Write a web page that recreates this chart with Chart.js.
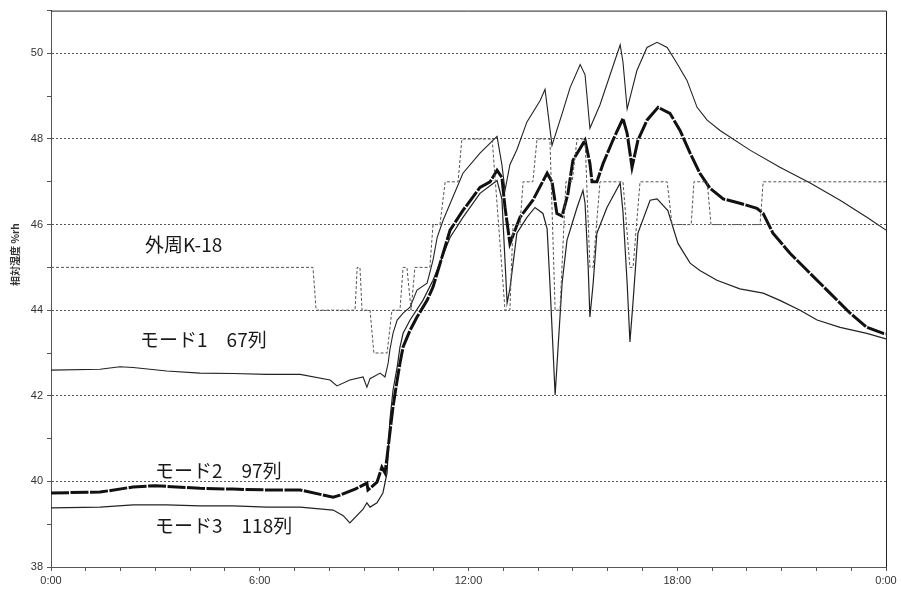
<!DOCTYPE html>
<html>
<head>
<meta charset="utf-8">
<script src="https://cdn.jsdelivr.net/npm/chart.js@4"></script>
<style>
  html, body { margin: 0; padding: 0; background: #fff; }
  #box { width: 901px; height: 593px; }
</style>
</head>
<body>
<div id="box"><canvas id="rh-chart"></canvas></div>
<script>
// time in hours (0 = 0:00, 24 = next 0:00), relative humidity in %rh
const k18Hours = [0, 7.53, 7.62, 8.74, 8.80, 8.88, 8.94, 9.17, 9.28, 9.66, 9.80, 10.03, 10.12, 10.23, 10.35, 10.46, 10.89, 10.98,
  11.18, 11.33, 11.70, 11.81, 12.68, 13.05, 13.19, 13.28, 13.48, 13.57, 13.85, 13.97, 14.34, 14.49, 14.63, 14.80, 14.98,
  15.12, 15.35, 15.49, 15.58, 15.78, 16.44, 16.64, 16.73, 16.93, 17.71, 17.85, 18.40, 18.48, 18.86, 18.97, 20.38, 20.47, 24];
const k18 = [45, 45, 44, 44, 45, 45, 44, 44, 43, 43, 44, 44, 45, 45, 44, 45, 45, 46,
  46, 47, 47, 48, 48, 44, 44, 46, 46, 47, 47, 48, 48, 44, 44, 47, 47,
  48, 48, 45, 45, 47, 47, 45, 45, 47, 47, 46, 46, 47, 47, 46, 46, 47, 47];

const mode1Hours = [0, 1.41, 1.98, 2.36, 3.33, 4.28, 5.23, 6.21, 7.16, 8.02, 8.22, 8.59, 8.97, 9.08, 9.17, 9.46, 9.60, 9.69,
  9.74, 9.83, 9.95, 10.12, 10.32, 10.52, 10.81, 10.98, 11.10, 11.27, 11.84, 12.33, 12.82, 12.96, 13.05, 13.19, 13.39,
  13.68, 14.06, 14.20, 14.40, 14.72, 14.92, 15.21, 15.35, 15.49, 15.78, 16.07, 16.36, 16.44, 16.56, 16.84, 17.13, 17.42,
  17.71, 17.99, 18.28, 18.57, 18.86, 19.23, 20.09, 20.95, 21.82, 22.68, 23.45, 24];
const mode1 = [42.6, 42.62, 42.68, 42.66, 42.58, 42.53, 42.52, 42.5, 42.5, 42.37, 42.23, 42.37, 42.44, 42.2, 42.4, 42.53, 42.44, 42.76,
  43.07, 43.46, 43.77, 43.93, 44.07, 44.47, 44.63, 45.17, 45.7, 46.1, 47.2, 47.67, 48.06, 47.4, 46.8, 47.4, 47.75,
  48.4, 48.9, 49.16, 47.85, 48.67, 49.2, 49.74, 49.5, 48.25, 48.8, 49.5, 50.2, 49.8, 48.7, 49.6, 50.14, 50.26,
  50.14, 49.77, 49.37, 48.74, 48.44, 48.2, 47.74, 47.34, 46.97, 46.57, 46.17, 45.87];

const mode2Hours = [0, 1.41, 2.36, 3.0, 4.28, 5.23, 6.21, 7.16, 8.11, 8.31, 8.74, 9.08, 9.11, 9.37, 9.51, 9.60, 9.66, 9.74,
  9.83, 9.95, 10.03, 10.12, 10.32, 10.52, 10.81, 10.98, 11.47, 11.84, 12.33, 12.62, 12.82, 12.96, 13.05, 13.19, 13.48,
  13.85, 14.26, 14.40, 14.54, 14.69, 14.86, 15.0, 15.35, 15.49, 15.55, 15.69, 15.87, 16.15, 16.44, 16.56, 16.70, 16.87,
  17.13, 17.45, 17.79, 18.08, 18.37, 18.65, 18.94, 19.32, 19.80, 20.29, 20.47, 20.75, 21.24, 21.82, 22.39, 22.97, 23.45, 23.92, 24];
const mode2 = [39.73, 39.75, 39.87, 39.9, 39.84, 39.82, 39.8, 39.8, 39.63, 39.68, 39.82, 39.96, 39.8, 39.98, 40.33, 40.2, 40.57, 41.13,
  41.74, 42.37, 42.76, 43.14, 43.53, 43.84, 44.23, 44.54, 45.87, 46.33, 46.87, 47.0, 47.27, 47.1, 46.4, 45.56, 46.17,
  46.57, 47.2, 47.0, 46.26, 46.2, 46.73, 47.5, 47.97, 47.43, 47.0, 47.0, 47.43, 47.97, 48.48, 48.13, 47.34, 47.97,
  48.44, 48.74, 48.6, 48.2, 47.67, 47.2, 46.85, 46.6, 46.5, 46.38, 46.26, 45.8, 45.33, 44.86, 44.4, 43.93, 43.6, 43.46, 43.45];

const mode3Hours = [0, 1.41, 2.36, 3.33, 4.28, 5.23, 6.21, 7.16, 8.11, 8.4, 8.59, 8.97, 9.08, 9.17, 9.37, 9.54, 9.66, 9.74,
  9.83, 9.95, 10.03, 10.12, 10.32, 10.69, 10.98, 11.47, 11.84, 12.33, 12.82, 12.96, 13.11, 13.19, 13.39, 13.68, 13.91,
  14.14, 14.26, 14.34, 14.43, 14.49, 14.57, 14.69, 14.83, 15.12, 15.29, 15.35, 15.44, 15.49, 15.58, 15.69, 15.98, 16.36,
  16.44, 16.56, 16.64, 16.73, 16.87, 17.22, 17.42, 17.73, 18.02, 18.37, 18.65, 19.14, 19.80, 20.47, 20.95, 21.53, 22.02,
  22.68, 23.45, 24];
const mode3 = [39.38, 39.4, 39.45, 39.45, 39.43, 39.43, 39.4, 39.4, 39.33, 39.2, 39.03, 39.35, 39.5, 39.4, 39.5, 39.73, 40.2, 41.43,
  42.13, 42.67, 43.14, 43.46, 43.77, 44.23, 44.7, 45.7, 46.17, 46.73, 47.03, 46.6, 44.17, 44.5, 45.8, 46.17, 46.4,
  46.26, 45.9, 44.63, 43.07, 42.02, 43.07, 44.63, 45.63, 46.4, 46.8, 46.5, 45.0, 43.84, 44.6, 45.8, 46.4, 46.97,
  46.3, 44.63, 43.26, 44.2, 45.8, 46.57, 46.6, 46.33, 45.56, 45.1, 44.93, 44.7, 44.5, 44.4, 44.23, 44.0, 43.77,
  43.6, 43.46, 43.33];

// in-plot series labels: [text, hour of left edge, %rh of middle]
const seriesLabels = [
  ['外周K-18', 2.7, 45.54],
  ['モード1　67列', 2.56, 43.3],
  ['モード2　97列', 2.99, 40.24],
  ['モード3　118列', 2.99, 38.96],
];

const yTitle = '相対湿度 %rh';
const hourLabel = v => (v % 6 === 0 ? `${v % 24}:00` : '');

const pts = (hs, vs) => hs.map((h, i) => ({ x: h, y: vs[i] }));

const frameAndLabels = {
  id: 'frameAndLabels',
  afterDatasetsDraw(chart) {
    const { ctx, chartArea: a, scales: { x, y } } = chart;
    ctx.save();
    // solid top / right edge
    ctx.strokeStyle = '#222';
    ctx.lineWidth = 1;
    ctx.beginPath();
    ctx.moveTo(a.left, a.top + 0.5);
    ctx.lineTo(a.right + 0.5, a.top + 0.5);
    ctx.lineTo(a.right + 0.5, a.bottom);
    ctx.stroke();

    ctx.fillStyle = '#1a1a1a';
    ctx.font = '19px "Noto Sans CJK JP"';
    ctx.textBaseline = 'middle';
    ctx.textAlign = 'left';
    seriesLabels.forEach(([t, h, v]) => ctx.fillText(t, x.getPixelForValue(h), y.getPixelForValue(v)));

    // rotated axis title, a bit above the middle like the original
    ctx.translate(15, y.getPixelForValue(45.3));
    ctx.rotate(-Math.PI / 2);
    ctx.textAlign = 'center';
    ctx.fillStyle = '#333';
    ctx.font = 'bold 10px "Noto Sans CJK JP"';
    ctx.fillText(yTitle, 0, 0);
    ctx.restore();
  }
};

const tickFont = { family: '"Liberation Sans", sans-serif', size: 11 };

new Chart(document.getElementById('rh-chart'), {
  type: 'line',
  data: {
    datasets: [
      { label: '外周K-18', data: pts(k18Hours, k18), borderColor: '#555', borderWidth: 1, borderDash: [3, 2] },
      { label: 'モード1 67列', data: pts(mode1Hours, mode1), borderColor: '#222', borderWidth: 1.1 },
      { label: 'モード2 97列', data: pts(mode2Hours, mode2), borderColor: '#111', borderWidth: 3, borderDash: [18, 1.5] },
      { label: 'モード3 118列', data: pts(mode3Hours, mode3), borderColor: '#222', borderWidth: 1.2 },
    ]
  },
  options: {
    responsive: true,
    maintainAspectRatio: false,
    animation: false,
    parsing: false,
    elements: { point: { radius: 0 }, line: { tension: 0 } },
    layout: { padding: { top: 9, right: 15, left: 0, bottom: 0 } },
    plugins: { legend: { display: false }, tooltip: { enabled: false } },
    scales: {
      x: {
        type: 'linear', min: 0, max: 24,
        afterFit: s => { s.height = 26; },
        ticks: { stepSize: 1, autoSkip: false, maxRotation: 0, padding: 3, color: '#333', font: tickFont, callback: hourLabel },
        grid: { drawOnChartArea: false, tickLength: 4, tickColor: '#555' },
        border: { color: '#555', dash: [2, 2] }
      },
      y: {
        min: 38, max: 51,
        afterFit: s => { s.width = 51; },
        ticks: { stepSize: 1, padding: 4, color: '#333', font: tickFont, callback: v => (v % 2 === 0 ? v : '') },
        grid: {
          tickLength: 4, tickColor: '#555', lineWidth: 1,
          color: c => (c.tick && c.tick.value % 2 === 0 ? '#555' : 'rgba(0,0,0,0)'),
          borderDash: [2, 2]
        },
        border: { color: '#555', dash: [2, 2] }
      }
    }
  },
  plugins: [frameAndLabels]
});
</script>
</body>
</html>
